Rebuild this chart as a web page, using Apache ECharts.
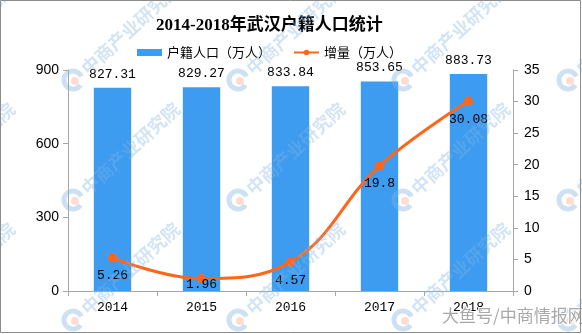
<!DOCTYPE html>
<html>
<head>
<meta charset="utf-8">
<script src="https://cdn.jsdelivr.net/npm/echarts@6/dist/echarts.min.js"></script>
<style>
  html, body { margin: 0; padding: 0; background: #fff; }
  #chart { width: 582px; height: 334px; }
</style>
</head>
<body>
<div id="chart"></div>
<script>
// Registered population of Wuhan, 2014-2018
const years = ['2014', '2015', '2016', '2017', '2018'];
const population = [827.31, 829.27, 833.84, 853.65, 883.73];   // 户籍人口（万人）
const increase = [5.26, 1.96, 4.57, 19.8, 30.08];              // 增量（万人）
const leftTicks = { min: 0, max: 900, interval: 300 };
const rightTicks = { min: 0, max: 35, interval: 5 };

const CJK = '"Noto Sans CJK SC", "Liberation Sans", sans-serif';
const MONO = '"Liberation Mono", "DejaVu Sans Mono", monospace';
const BAR_COLOR = '#3d9cf0';
const LINE_COLOR = '#ff661a';

// faint diagonal brand stamps tiled over the canvas
const stamps = [];
const colsX = [-92, 73, 238, 403, 568];
const rowsY = [80, 200, 320];
colsX.forEach(cx => rowsY.forEach(cy => {
  stamps.push({
    type: 'arc', z: 100, silent: true,
    shape: { cx: cx, cy: cy, r: 9, startAngle: 0.6, endAngle: 2 * Math.PI - 0.4 },
    style: { fill: 'none', stroke: 'rgba(130,180,225,0.4)', lineWidth: 5 }
  });
  stamps.push({
    type: 'circle', z: 100, silent: true,
    shape: { cx: cx + 2, cy: cy + 1, r: 4 },
    style: { fill: 'rgba(250,170,140,0.4)' }
  });
  stamps.push({
    type: 'text', z: 100, silent: true,
    x: cx + 11, y: cy - 9, rotation: 0.74,
    style: {
      text: '中商产业研究院', x: 0, y: 0,
      font: 'bold 18px ' + CJK,
      fill: 'rgba(130,180,225,0.36)',
      verticalAlign: 'middle', align: 'left'
    }
  });
}));

const chart = echarts.init(document.getElementById('chart'), null, { renderer: 'canvas' });
chart.setOption({
  animation: false,
  backgroundColor: '#fff',
  title: {
    text: '2014-2018年武汉户籍人口统计',
    left: 151, top: 12,
    textStyle: {
      fontFamily: '"Liberation Serif", "Noto Sans CJK SC", serif',
      fontWeight: 'bold', fontSize: 17, color: '#000'
    }
  },
  legend: {
    left: 132, top: 41,
    itemWidth: 25, itemHeight: 7, itemGap: 22,
    textStyle: { fontFamily: CJK, fontSize: 13, color: '#000' },
    data: [
      { name: '户籍人口（万人）', icon: 'rect' },
      { name: '增量（万人）' }
    ]
  },
  grid: { left: 68, right: 69, top: 70, bottom: 43 },
  xAxis: {
    type: 'category', data: years,
    axisLine: { lineStyle: { color: '#a6a6a6' } },
    axisTick: { show: true, length: 5, lineStyle: { color: '#a6a6a6' } },
    axisLabel: { color: '#000', fontFamily: MONO, fontSize: 13, margin: 10 }
  },
  yAxis: [
    {
      type: 'value', min: leftTicks.min, max: leftTicks.max, interval: leftTicks.interval,
      axisLine: { show: true, lineStyle: { color: '#a6a6a6' } },
      axisTick: { show: true, length: 5, lineStyle: { color: '#a6a6a6' } },
      splitLine: { show: false },
      axisLabel: { color: '#000', fontFamily: '"Liberation Sans", sans-serif', fontSize: 14, margin: 9 }
    },
    {
      type: 'value', min: rightTicks.min, max: rightTicks.max, interval: rightTicks.interval,
      axisLine: { show: true, lineStyle: { color: '#a6a6a6' } },
      axisTick: { show: true, length: 5, lineStyle: { color: '#a6a6a6' } },
      splitLine: { show: false },
      axisLabel: { color: '#000', fontFamily: '"Liberation Sans", sans-serif', fontSize: 14, margin: 11 }
    }
  ],
  series: [
    {
      name: '户籍人口（万人）', type: 'bar', yAxisIndex: 0,
      data: population, barWidth: '42%',
      itemStyle: { color: BAR_COLOR },
      label: {
        show: true, position: 'top', distance: 7,
        color: '#000', fontFamily: MONO, fontSize: 13
      }
    },
    {
      name: '增量（万人）', type: 'line', yAxisIndex: 1,
      data: increase.map((v, i) => i === 1
        ? { value: v, label: { offset: [0, -12] } }
        : v),
      smooth: 0.4,
      symbol: 'circle', symbolSize: 9,
      lineStyle: { color: LINE_COLOR, width: 3 },
      itemStyle: { color: LINE_COLOR },
      label: {
        show: true, position: 'bottom', distance: 7,
        color: '#000', fontFamily: MONO, fontSize: 13
      },
      z: 5
    }
  ],
  graphic: [
    ...stamps,
    {
      type: 'text', z: 110, silent: true,
      left: 441, top: 306,
      style: {
        text: '大鱼号/中商情报网',
        font: '17px ' + CJK,
        fill: '#a8a8a8', stroke: '#fff', lineWidth: 2
      }
    },
    {
      type: 'rect', z: 120, silent: true,
      shape: { x: 0.5, y: 0.5, width: 580, height: 332 },
      style: { fill: 'none', stroke: '#8c8c8c', lineWidth: 1 }
    }
  ]
});
</script>
</body>
</html>
